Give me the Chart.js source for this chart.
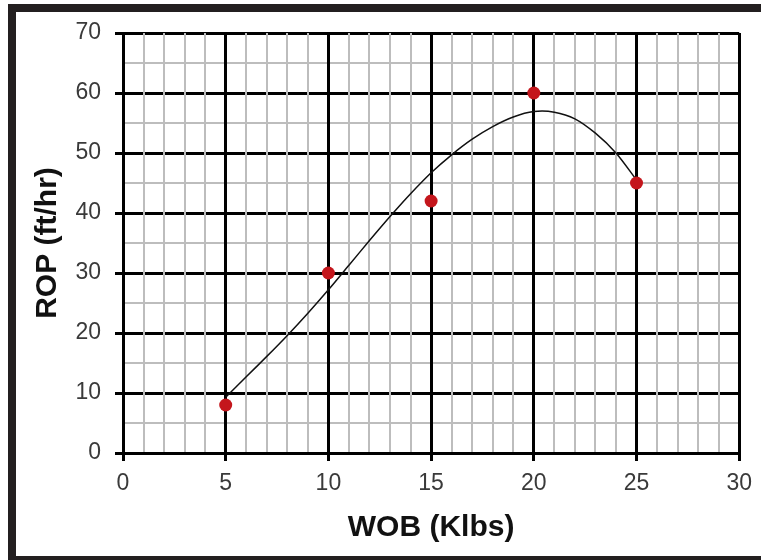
<!DOCTYPE html>
<html>
<head>
<meta charset="utf-8">
<script src="https://cdn.jsdelivr.net/npm/chart.js@4"></script>
<style>
  html, body { margin: 0; padding: 0; background: #fff; overflow: hidden; }
  #wrap { position: relative; width: 761px; height: 560px; overflow: hidden; }
  #frame {
    position: absolute; left: 8px; top: 4px; right: -20px; bottom: -4px;
    border: 8px solid #231f20; box-sizing: border-box; pointer-events: none;
  }
  canvas { position: absolute; left: 0; top: 0; }
</style>
</head>
<body>
<div id="wrap">
  <canvas id="ropChart" width="761" height="560"></canvas>
  <div id="frame"></div>
</div>
<script>
// measured points
const wob = [5, 10, 15, 20, 25];
const rop = [8, 30, 42, 60, 45];

// trend curve, every 1 klbs
const fitWob = [5, 6, 7, 8, 9, 10, 11, 12, 13, 14, 15, 16, 17, 18, 19, 20, 21, 22, 23, 24, 25];
const fitRop = [9.3, 12.7, 16.1, 19.6, 23.3, 27.2, 31.3, 35.4, 39.4, 43.2, 46.7,
                49.7, 52.3, 54.4, 56.0, 56.9, 56.8, 55.7, 53.3, 50.0, 45.5];

const xTitle = "WOB (Klbs)";
const yTitle = "ROP (ft/hr)";

const FONT = "'Liberation Sans', Arial, Helvetica, sans-serif";

function majorX(ctx) { return ctx.tick && ctx.tick.value % 5 === 0; }
function majorY(ctx) { return ctx.tick && ctx.tick.value % 10 === 0; }

const ctx = document.getElementById('ropChart').getContext('2d');

new Chart(ctx, {
    type: 'scatter',
    data: {
        datasets: [
            {
                label: "Data",
                data: wob.map((x, i) => ({ x: x, y: rop[i] })),
                backgroundColor: "#c4161c",
                borderColor: "#c4161c",
                pointRadius: 6.5,
                pointBorderWidth: 0,
                showLine: false
            },
            {
                label: "Fit",
                data: fitWob.map((x, i) => ({ x: x, y: fitRop[i] })),
                borderColor: "#111",
                borderWidth: 1.5,
                pointRadius: 0,
                showLine: true,
                fill: false,
                tension: 0.3
            }
        ]
    },
    options: {
        responsive: false,
        animation: false,
        layout: { padding: { top: 33, right: 20, left: 0, bottom: 0 } },
        plugins: {
            legend: { display: false },
            tooltip: { enabled: false }
        },
        scales: {
            x: {
                type: 'linear',
                min: 0,
                max: 30,
                afterFit: (scale) => { scale.height = 107; },
                ticks: {
                    stepSize: 1,
                    autoSkip: false,
                    maxRotation: 0,
                    padding: 9,
                    color: "#3a3a3a",
                    font: { family: FONT, size: 23 },
                    callback: (v) => (v % 5 === 0 ? v : '')
                },
                grid: {
                    z: -1,
                    color: (c) => majorX(c) ? "#000" : "#bdbdbd",
                    lineWidth: (c) => majorX(c) ? 3 : 2,
                    tickColor: (c) => majorX(c) ? "#000" : "rgba(0,0,0,0)",
                    tickLength: 8
                },
                border: { display: true, color: "#000", width: 3 },
                title: {
                    display: true,
                    text: xTitle,
                    color: "#111",
                    font: { family: FONT, size: 30, weight: 'bold' },
                    padding: { bottom: 14 }
                }
            },
            y: {
                min: 0,
                max: 70,
                afterFit: (scale) => { scale.width = 123; },
                ticks: {
                    stepSize: 5,
                    autoSkip: false,
                    padding: 14,
                    color: "#3a3a3a",
                    font: { family: FONT, size: 23 },
                    callback: (v) => (v % 10 === 0 ? v : '')
                },
                grid: {
                    z: -2,
                    color: (c) => majorY(c) ? "#000" : "#bdbdbd",
                    lineWidth: (c) => majorY(c) ? 3 : 2,
                    tickColor: (c) => majorY(c) ? "#000" : "rgba(0,0,0,0)",
                    tickLength: 8
                },
                border: { display: true, color: "#000", width: 3 },
                title: {
                    display: true,
                    text: yTitle,
                    color: "#111",
                    font: { family: FONT, size: 30, weight: 'bold' },
                    padding: { top: 30 }
                }
            }
        }
    }
});
</script>
</body>
</html>
